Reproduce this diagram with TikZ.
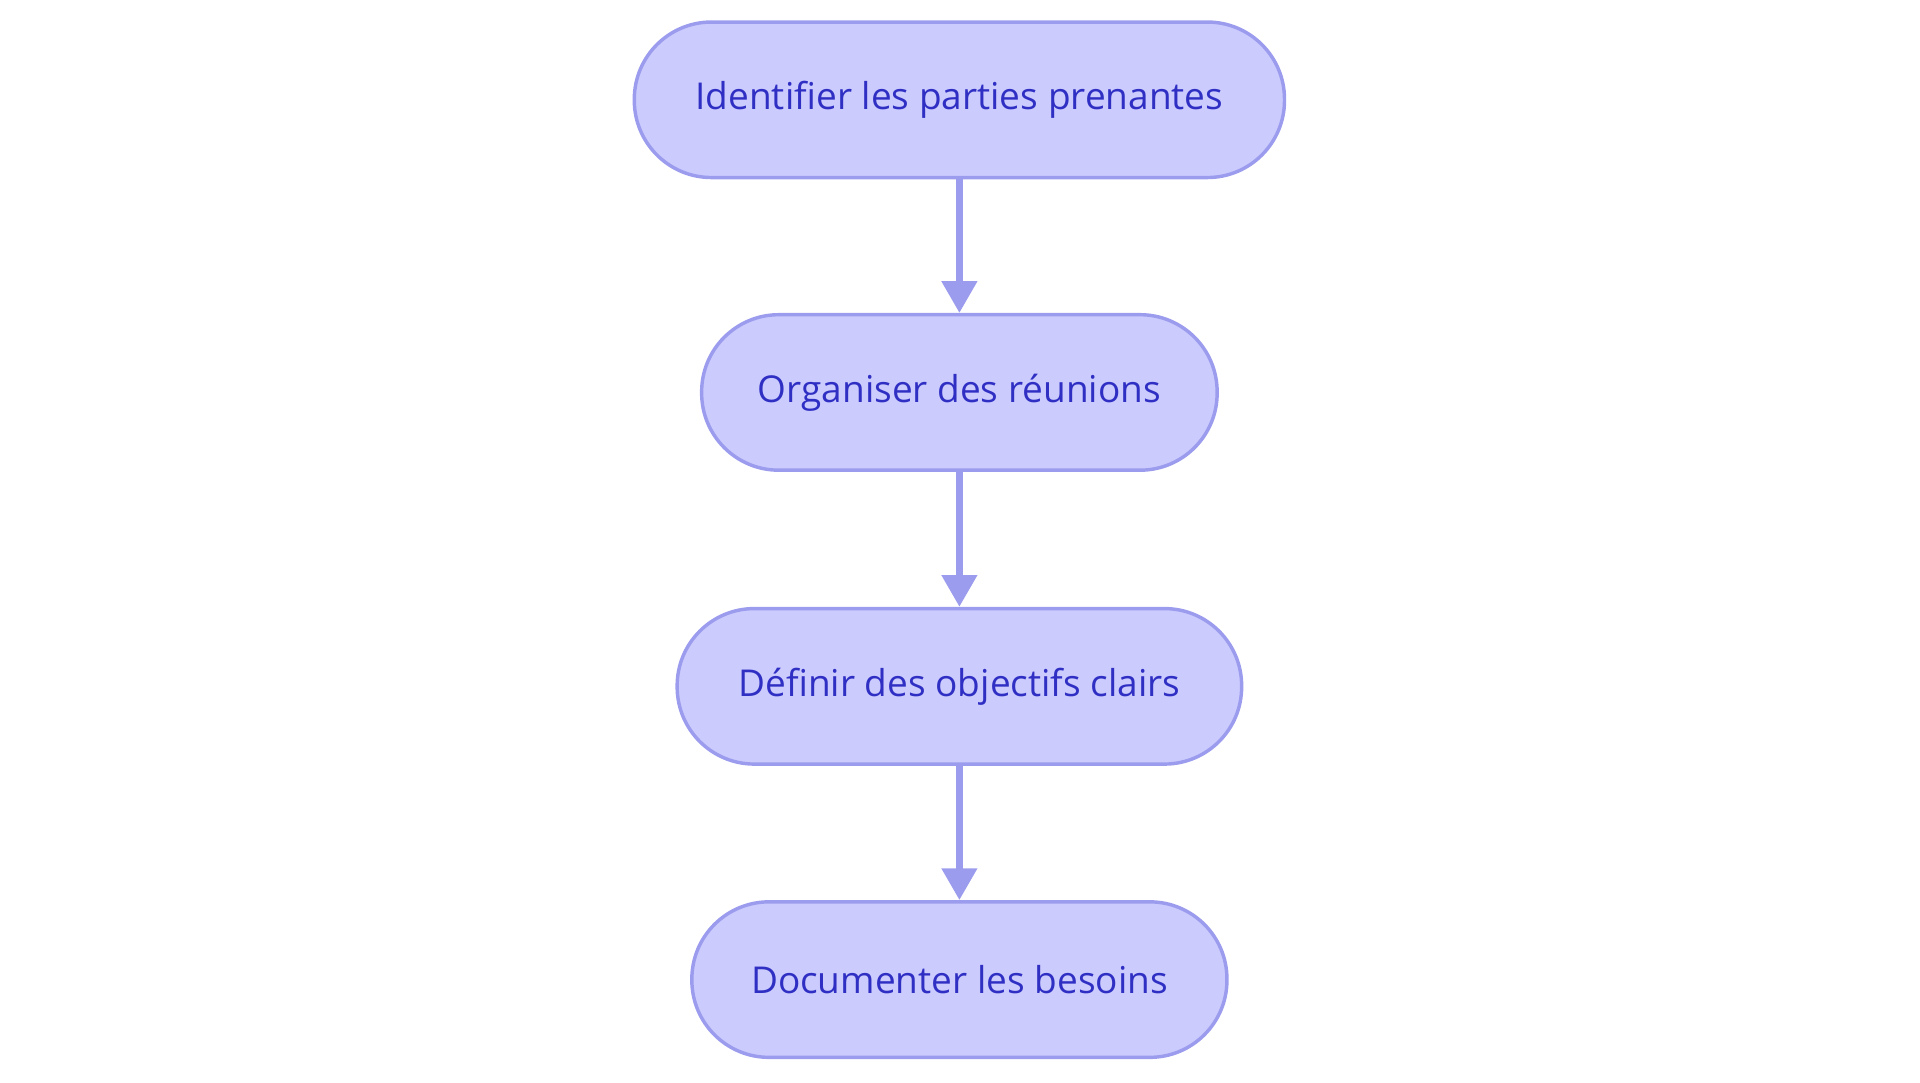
\documentclass[tikz,border=0pt]{standalone}
\usepackage{fontspec}
\setmainfont{Open Sans}
\usepackage{tikz}
\usetikzlibrary{arrows.meta}
\definecolor{boxfill}{HTML}{CBCBFE}
\definecolor{boxline}{HTML}{9C9CEE}
\definecolor{boxtext}{HTML}{2F2FC4}
\begin{document}
\begin{tikzpicture}[
  stepbox/.style={draw=boxline, fill=boxfill, text=boxtext, line width=0.8pt,
    rounded corners=0.63cm, minimum height=1.27cm, inner sep=0pt,
    font=\fontsize{8.6}{10}\selectfont},
  flow/.style={draw=boxline, line width=1.6pt, -{Triangle[length=0.26cm, width=0.28cm]}}]
\useasboundingbox (0,0) rectangle (15.68,-8.84);
% draws boxes
\node[stepbox, minimum width=5.31cm] (ident) at (7.835,-0.815) {Identifier les parties prenantes};
\node[stepbox, minimum width=4.21cm] (reun) at (7.835,-3.205) {Organiser des réunions};
\node[stepbox, minimum width=4.61cm] (obj) at (7.835,-5.605) {Définir des objectifs clairs};
\node[stepbox, minimum width=4.37cm] (doc) at (7.835,-8.0) {Documenter les besoins};
% draws arrows
\draw[flow] (ident) -- (reun);
\draw[flow] (reun) -- (obj);
\draw[flow] (obj) -- (doc);
\end{tikzpicture}
\end{document}
